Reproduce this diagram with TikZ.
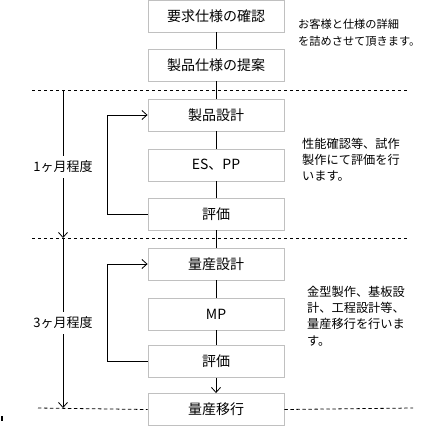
\documentclass[tikz,border=0pt]{standalone}
\usepackage{fontspec}
\setmainfont{Noto Sans CJK JP}
\usetikzlibrary{arrows.meta}
\definecolor{boxgray}{RGB}{192,192,192}
\tikzset{
  box/.style={draw=boxgray, line width=0.9pt, minimum width=136pt, minimum height=32pt, inner sep=0pt, font=\fontsize{14}{16}\selectfont},
  conn/.style={draw=black, line width=0.8pt},
  arr/.style={conn, -{Straight Barb[length=5pt,width=9pt,line width=0.8pt]}},
  sep/.style={draw=black, line width=0.8pt, dash pattern=on 3.3pt off 2.7pt},
  note/.style={anchor=west, align=left, inner sep=0pt, font=\fontsize{12.2}{16.2}\selectfont},
  span/.style={fill=white, inner xsep=1pt, inner ysep=5pt, font=\fontsize{13}{15}\selectfont}
}
\begin{document}
\begin{tikzpicture}[x=1pt,y=-1pt]
\useasboundingbox (0,0) rectangle (423,426);
% boxes
\node[box] (b1) at (216,16) {要求仕様の確認};
\node[box] (b2) at (216,65) {製品仕様の提案};
\node[box] (b3) at (216,115) {製品設計};
\node[box] (b4) at (216,165) {ES、PP};
\node[box] (b5) at (216,214) {評価};
\node[box] (b6) at (216,264) {量産設計};
\node[box] (b7) at (216,314) {MP};
\node[box] (b8) at (216,361.5) {評価};
\node[box] (b9) at (216,409.5) {量産移行};
% dashed separators
\coordinate (s1a) at (32,90); \coordinate (s1b) at (408,90);
\coordinate (s2a) at (32,238); \coordinate (s2b) at (408,238);
\coordinate (s3a) at (38,408); \coordinate (s3b) at (413,408);
\draw[sep] (s1a) -- (s1b);
\draw[sep] (s2a) -- (s2b);
\draw[sep] (s3a) -- (b9.west);
\draw[sep] (b9.east) -- (s3b);
% main flow connectors
\draw[conn] (b1) -- (b2);
\draw[conn] (b2) -- (b3);
\draw[conn] (b3) -- (b4);
\draw[conn] (b4) -- (b5);
\draw[conn] (b5) -- (b6);
\draw[conn] (b6) -- (b7);
\draw[conn] (b7) -- (b8);
\draw[arr] (b8) -- (b9);
% feedback loops
\draw[arr] (b5.west) -- ++(-40,0) |- (b3.west);
\draw[arr] (b8.west) -- ++(-40,0) |- (b6.west);
% duration arrows
\coordinate (d1a) at (63,90); \coordinate (d1b) at (63,238);
\coordinate (d2a) at (63,238); \coordinate (d2b) at (63,408);
\draw[arr] (d1a) -- (d1b);
\draw[arr] (d2a) -- (d2b);
\node[span] (p1) at (63,167) {1ヶ月程度};
\node[span] (p2) at (63,323) {3ヶ月程度};
% notes
\node[note, font=\fontsize{11.2}{16.5}\selectfont] (n1) at (298,32.5) {お客様と仕様の詳細\\を詰めさせて頂きます。};
\node[note] (n2) at (302,160) {性能確認等、試作\\製作にて評価を行\\います。};
\node[note] (n3) at (307,316) {金型製作、基板設\\計、工程設計等、\\量産移行を行いま\\す。};
\fill (1,416) rectangle (3,421);
\end{tikzpicture}
\end{document}
